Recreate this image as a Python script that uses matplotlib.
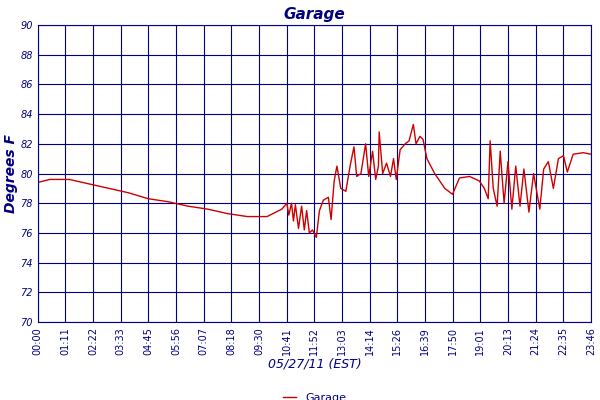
import matplotlib
matplotlib.use("Agg")
import matplotlib.pyplot as plt

minutes = [0, 31, 81, 132, 183, 234, 285, 336, 387, 438, 489, 540, 591, 629, 642, 647, 654, 659,
           664, 672, 680, 687, 693, 700, 708, 718, 726, 736, 749, 756, 764, 771, 781, 794, 805,
           815, 822, 833, 845, 853, 863, 871, 878, 880, 889, 899, 909, 917, 924, 934, 947, 957,
           968, 975, 985, 993, 1003, 1023, 1049, 1069, 1087, 1113, 1138, 1151, 1161, 1166, 1174,
           1184, 1192, 1202, 1212, 1222, 1232, 1243, 1253, 1266, 1278, 1294, 1304, 1316, 1329,
           1342, 1355, 1365, 1380, 1406, 1426]
temps = [79.4, 79.6, 79.6, 79.3, 79.0, 78.7, 78.3, 78.1, 77.8, 77.6, 77.3, 77.1, 77.1, 77.6, 78.0,
         77.2, 78.0, 76.8, 77.9, 76.3, 77.8, 76.2, 77.5, 76.0, 76.2, 75.7, 77.5, 78.2, 78.4, 76.9,
         79.5, 80.5, 79.0, 78.8, 80.5, 81.8, 79.8, 80.0, 82.0, 79.8, 81.5, 79.6, 80.5, 82.8, 80.0,
         80.7, 79.8, 81.0, 79.6, 81.6, 82.0, 82.2, 83.3, 82.0, 82.5, 82.3, 81.0, 80.0, 79.0, 78.6,
         79.7, 79.8, 79.5, 79.0, 78.3, 82.2, 79.0, 77.8, 81.5, 78.0, 80.8, 77.6, 80.5, 77.8, 80.3,
         77.4, 80.0, 77.6, 80.3, 80.8, 79.0, 81.0, 81.2, 80.1, 81.3, 81.4, 81.3]
tick_labels = ["00:00", "01:11", "02:22", "03:33", "04:45", "05:56", "07:07", "08:18", "09:30",
               "10:41", "11:52", "13:03", "14:14", "15:26", "16:39", "17:50", "19:01", "20:13",
               "21:24", "22:35", "23:46"]

navy = "#000080"
fig = plt.figure(figsize=(6, 4), dpi=100)
ax = fig.add_axes([0.063, 0.195, 0.922, 0.7425])
ax.plot(minutes, temps, color="#cc0000", lw=1)

step = 1426 / 20
ax.set_xticks([i * step for i in range(21)])
ax.set_xticklabels(tick_labels, rotation=90, fontsize=7, color=navy)
ax.set_xlim(0, 1426)
ax.set_ylim(70, 90)
ax.set_yticks(range(70, 91, 2))
ax.tick_params(axis="y", labelsize=7, labelcolor=navy, length=0)
ax.tick_params(axis="x", length=0)
for lbl in ax.get_yticklabels():
    lbl.set_style("italic")
ax.grid(True, color=navy, lw=0.8)
for s in ax.spines.values():
    s.set_color(navy)
ax.set_title("Garage", color=navy, style="italic", fontsize=11, fontweight="bold", pad=4)
ax.set_ylabel("Degrees F", color=navy, style="italic", fontsize=10, fontweight="bold", labelpad=2)
ax.set_xlabel("05/27/11 (EST)", color=navy, style="italic", fontsize=9, labelpad=2)
ax.legend(["Garage"], loc="upper center", bbox_to_anchor=(0.5, -0.205), frameon=False,
          fontsize=8, labelcolor=navy, handlelength=1.2)
fig.savefig("out.png", dpi=100)
